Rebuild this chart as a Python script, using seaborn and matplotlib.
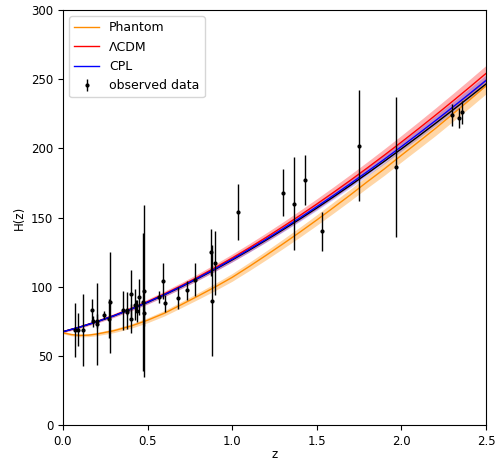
import numpy as np
import seaborn as sns
import matplotlib
matplotlib.use('Agg')
import matplotlib.pyplot as plt

# observed H(z) data
z_obs = [0.07, 0.09, 0.12, 0.17, 0.179, 0.199, 0.2, 0.24, 0.27, 0.28,
         0.352, 0.38, 0.3802, 0.4, 0.4004, 0.4247, 0.43, 0.44, 0.4497, 0.47,
         0.4783, 0.48, 0.57, 0.593, 0.6, 0.68, 0.73, 0.781, 0.875, 0.88,
         0.9, 1.037, 1.3, 1.363, 1.43, 1.53, 1.75, 1.965, 2.3, 2.34, 2.36]
h_obs = [69, 69, 68.6, 83, 75, 75, 72.9, 79.7, 77, 88.8,
         83, 81.5, 83, 95, 77, 87.1, 86.5, 82.6, 92.8, 89,
         80.9, 97, 92.4, 104, 87.9, 92, 97.3, 105, 125, 90,
         117, 154, 168, 160, 177, 140, 202, 186.5, 224, 222, 226]
h_err = [19.6, 12, 26.2, 8, 4, 5, 29.6, 2.7, 14, 36.6,
         14, 1.9, 13.5, 17, 10.2, 11.2, 3.7, 7.8, 12.9, 50,
         9, 62, 4.5, 13, 6.1, 8, 7.0, 12, 17, 40,
         23, 20, 17, 33.6, 18, 14, 40, 50.4, 8, 7, 8]

# model curves
z_grid = [0.0, 0.1, 0.2, 0.3, 0.4, 0.5, 0.6, 0.7, 0.8, 0.9, 1.0, 1.1, 1.2,
          1.3, 1.4, 1.5, 1.6, 1.7, 1.8, 1.9, 2.0, 2.1, 2.2, 2.3, 2.4, 2.5]
h_lcdm = [67.5, 70.93, 74.84, 79.21, 84.02, 89.25, 94.87, 100.86, 107.20,
          113.87, 120.84, 128.11, 135.66, 143.47, 151.53, 159.83, 168.36,
          177.12, 186.08, 195.26, 204.63, 214.19, 223.94, 233.88, 243.99,
          254.28]
sig_lcdm = [0.8, 1.0, 1.2, 1.4, 1.6, 1.8, 2.0, 2.2, 2.4, 2.6, 2.8, 3.0, 3.2,
            3.4, 3.6, 3.8, 4.0, 4.2, 4.4, 4.6, 4.8, 5.0, 5.2, 5.4, 5.6, 5.8]
h_cpl = [67.5, 70.87, 74.72, 79.02, 83.75, 88.89, 94.41, 100.30, 106.51,
         113.05, 119.87, 126.98, 134.36, 141.98, 149.83, 157.91, 166.20,
         174.71, 183.40, 192.29, 201.36, 210.59, 220.00, 229.58, 239.31,
         249.19]
sig_cpl = [0.5, 0.6, 0.8, 0.9, 1.1, 1.2, 1.3, 1.5, 1.6, 1.8, 1.9, 2.0, 2.2,
           2.3, 2.5, 2.6, 2.7, 2.9, 3.0, 3.2, 3.3, 3.4, 3.6, 3.7, 3.9, 4.0]
h_fit = [67.5, 70.84, 74.66, 78.92, 83.62, 88.71, 94.19, 100.01, 106.17,
         112.64, 119.39, 126.42, 133.71, 141.23, 148.98, 156.95, 165.13,
         173.51, 182.06, 190.81, 199.72, 208.79, 218.03, 227.42, 236.96,
         246.65]

z_ph = [0.0, 0.05, 0.1, 0.15, 0.2, 0.3, 0.4, 0.5, 0.6, 0.7, 0.8, 0.9, 1.0,
        1.1, 1.2, 1.3, 1.4, 1.5, 1.6, 1.7, 1.8, 1.9, 2.0, 2.1, 2.2, 2.3,
        2.4, 2.5]
h_ph = [66.7, 65.4, 64.8, 65.0, 65.8, 68.2, 71.5, 75.8, 80.9, 87.1, 93.4,
        99.9, 106.8, 114.6, 122.7, 131.0, 139.5, 148.3, 157.4, 166.6, 176.1,
        185.3, 195.1, 204.7, 214.4, 224.6, 234.8, 245.3]
sig_ph = [0.8, 0.9, 1.0, 1.1, 1.2, 1.4, 1.6, 1.8, 2.0, 2.2, 2.4, 2.6, 2.8,
          3.0, 3.2, 3.4, 3.6, 3.8, 4.0, 4.2, 4.4, 4.6, 4.8, 5.0, 5.2, 5.4,
          5.6, 5.8]


def add_band(ax, z, h, sig, color, alpha):
    h = np.array(h)
    sig = np.array(sig)
    ax.fill_between(z, h - sig, h + sig, color=color, alpha=alpha, lw=0)


def main():
    fig, ax = plt.subplots(figsize=(4.96, 4.61), dpi=100)
    plt.subplots_adjust(left=0.127, right=0.980, top=0.978, bottom=0.078)

    add_band(ax, z_ph, h_ph, sig_ph, 'darkorange', 0.35)
    add_band(ax, z_grid, h_lcdm, sig_lcdm, 'red', 0.3)
    add_band(ax, z_grid, h_cpl, sig_cpl, 'blue', 0.22)

    sns.lineplot(x=z_ph, y=h_ph, color='darkorange', lw=1, label='Phantom',
                 ax=ax, legend=False)
    sns.lineplot(x=z_grid, y=h_lcdm, color='red', lw=1, label='ΛCDM',
                 ax=ax, legend=False)
    sns.lineplot(x=z_grid, y=h_fit, color='black', lw=1, ax=ax, legend=False)
    sns.lineplot(x=z_grid, y=h_cpl, color='blue', lw=1, label='CPL',
                 ax=ax, legend=False)

    ax.errorbar(z_obs, h_obs, yerr=h_err, fmt='.', color='black',
                ecolor='black', elinewidth=1, markersize=4,
                label='observed data')

    ax.set_xlim(0, 2.5)
    ax.set_ylim(0, 300)
    ax.set_xlabel('z', fontsize=8.5, labelpad=0)
    ax.set_ylabel('H(z)', fontsize=8.5)
    ax.tick_params(labelsize=8.5)
    ax.legend(loc='upper left', fontsize=9)

    fig.savefig('out.png', dpi=100)


if __name__ == '__main__':
    main()
